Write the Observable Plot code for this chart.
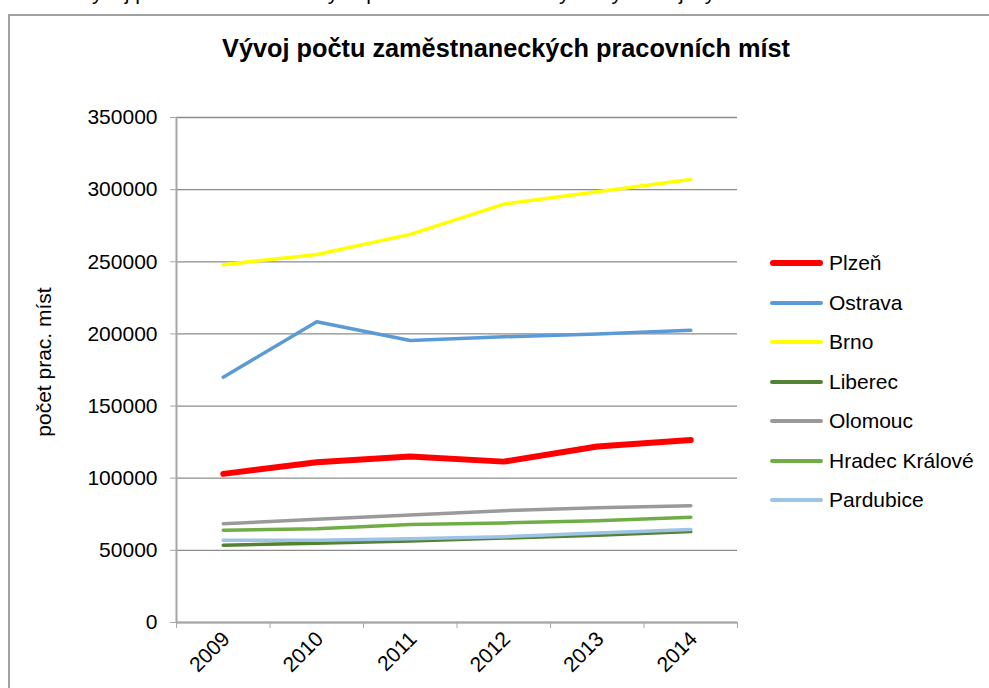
<!DOCTYPE html>
<html>
<head>
<meta charset="utf-8">
<script src="https://cdn.jsdelivr.net/npm/d3@7"></script>
<script src="https://cdn.jsdelivr.net/npm/@observablehq/plot@0.6"></script>
<style>
  html, body { margin: 0; padding: 0; background: #fff; overflow: hidden; }
  body { width: 989px; height: 688px; position: relative; font-family: "Liberation Sans", Arial, sans-serif; color: #000; }
  #cut { position: absolute; left: 8px; top: -18px; font-size: 21px; line-height: 21px; white-space: nowrap; }
  #frame { position: absolute; left: 8px; top: 14px; width: 1100px; height: 800px; border-left: 2px solid #a0a0a0; border-top: 2px solid #a0a0a0; box-sizing: border-box; }
  #title { position: absolute; left: 506px; top: 36px; transform: translateX(-50%); font-size: 25.3px; line-height: 25px; font-weight: bold; white-space: nowrap; }
  #ylabel { position: absolute; left: 44px; top: 362px; transform: translate(-50%, -50%) rotate(-90deg); font-size: 21px; white-space: nowrap; }
  #chart { position: absolute; left: 0; top: 0; }
  #legend { position: absolute; left: 770px; top: 243.5px; }
  .row { height: 39.5px; display: flex; align-items: center; font-size: 21px; white-space: nowrap; }
  .sw { width: 53px; border-radius: 3px; margin-right: 6px; }
</style>
</head>
<body>
<div id="cut">Graf 5: Vývoj počtu zaměstnaneckých pracovních míst ve vybraných krajských městech</div>
<div id="frame"></div>
<div id="title">Vývoj počtu zaměstnaneckých pracovních míst</div>
<div id="ylabel">počet prac. míst</div>
<div id="chart"></div>
<div id="legend"></div>
<script>
const years = [2009, 2010, 2011, 2012, 2013, 2014];
const cities = ["Plzeň", "Ostrava", "Brno", "Liberec", "Olomouc", "Hradec Králové", "Pardubice"];
const plzen     = [103000, 111000, 115000, 111500, 122000, 126500];
const ostrava   = [170000, 208500, 195500, 198000, 200000, 202500];
const brno      = [248000, 255000, 269000, 290000, 298500, 307000];
const liberec   = [53500, 55000, 56500, 58500, 60500, 63000];
const olomouc   = [68500, 71500, 74500, 77500, 79500, 81000];
const hradec    = [64000, 65000, 68000, 69000, 70500, 73000];
const pardubice = [57000, 57000, 58000, 59500, 62000, 64500];
const yTicks = [0, 50000, 100000, 150000, 200000, 250000, 300000, 350000];

const seriesValues = [plzen, ostrava, brno, liberec, olomouc, hradec, pardubice];
const colors = ["#ff0000", "#5b9bd5", "#ffff00", "#548235", "#9a9a9a", "#70ad47", "#9dc3e6"];
const widths = [6, 3.5, 3.5, 3.5, 3.5, 3.5, 3.5];

const boundaries = years.map(y => y - 0.5).concat([years[years.length - 1] + 0.5]);

const lineMarks = cities.map((c, i) => {
  const rows = years.map((yr, j) => ({year: yr, value: seriesValues[i][j]}));
  return Plot.line(rows, {x: "year", y: "value", stroke: colors[i], strokeWidth: widths[i], strokeLinejoin: "round", strokeLinecap: "round"});
});

const chart = Plot.plot({
  width: 760,
  height: 688,
  marginLeft: 176,
  marginRight: 23,
  marginTop: 117,
  marginBottom: 66,
  style: {fontFamily: "'Liberation Sans', Arial, sans-serif", fontSize: "21px", color: "#000", background: "transparent", overflow: "visible"},
  x: {domain: [boundaries[0], boundaries[boundaries.length - 1]]},
  y: {domain: [0, 350000]},
  marks: [
    Plot.gridY(yTicks, {stroke: "#8c8c8c", strokeOpacity: 1, strokeWidth: 1.3}),
    Plot.ruleX([boundaries[0]], {stroke: "#a6a6a6", strokeWidth: 2}),
    Plot.ruleY([0], {stroke: "#a6a6a6", strokeWidth: 2}),
    Plot.axisY({ticks: yTicks, tickSize: 6, tickPadding: 13, tickFormat: d => String(d), stroke: "#a6a6a6", strokeOpacity: 1, label: null}),
    Plot.axisX({ticks: boundaries, tickSize: 6, tickFormat: () => "", stroke: "#a6a6a6", strokeOpacity: 1, label: null}),
    Plot.axisX({ticks: years, tickSize: 0, tickRotate: -45, tickPadding: 13, dx: 3, tickFormat: d => String(d), label: null}),
    ...lineMarks
  ]
});
document.getElementById("chart").appendChild(chart);

const legend = document.getElementById("legend");
cities.forEach((c, i) => {
  const row = document.createElement("div");
  row.className = "row";
  const sw = document.createElement("div");
  sw.className = "sw";
  sw.style.height = (i === 0 ? 6 : 4) + "px";
  sw.style.background = colors[i];
  const t = document.createElement("span");
  t.textContent = c;
  row.appendChild(sw);
  row.appendChild(t);
  legend.appendChild(row);
});
</script>
</body>
</html>
